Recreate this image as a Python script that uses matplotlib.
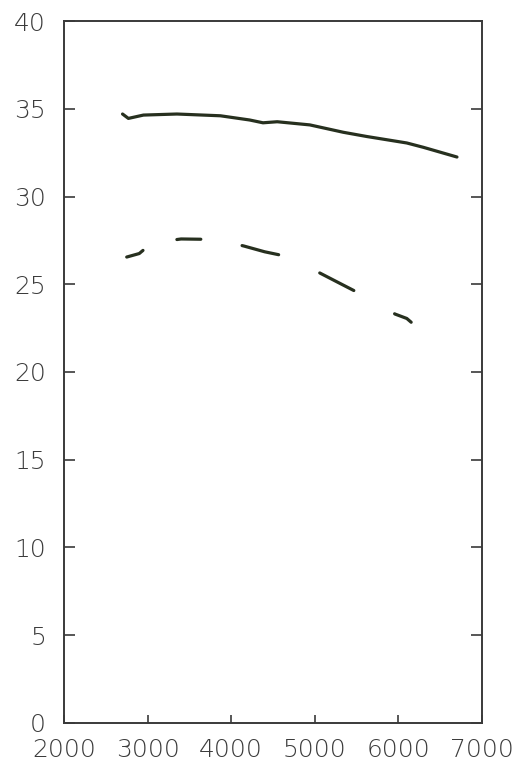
import numpy as np
import matplotlib
matplotlib.use("Agg")
import matplotlib.pyplot as plt

# solid curve (upper)
rpm_solid = [2700, 2770, 2950, 3350, 3870, 4220, 4380, 4550, 4940, 5340, 5620, 6100, 6300, 6700]
val_solid = [34.70, 34.45, 34.64, 34.70, 34.60, 34.36, 34.20, 34.26, 34.08, 33.66, 33.42, 33.05, 32.80, 32.25]

# dashed curve (lower)
rpm_dash = [2750, 2900, 2980, 3200, 3400, 3700, 4000, 4150, 4400, 4600, 4800, 5060, 5300, 5500, 5750, 5960, 6100, 6190]
val_dash = [26.55, 26.75, 27.07, 27.45, 27.58, 27.56, 27.35, 27.18, 26.85, 26.65, 26.20, 25.64, 25.05, 24.56, 23.90, 23.30, 23.05, 22.68]

x_ticks = [2000, 3000, 4000, 5000, 6000, 7000]
y_ticks = [0, 5, 10, 15, 20, 25, 30, 35, 40]

line_col = "#27301f"
frame_col = "#3a3a3a"
text_col = "#3c3c3c"

# hand-drawn look: uneven dash lengths (in linewidth units)
dash_seq = (5.6, 11.3, 7.5, 13.1, 11.8, 14.1, 12.0, 14.7, 5.9, 20)

fig = plt.figure(figsize=(5.15, 7.64), dpi=100)
ax = fig.add_axes([0.1243, 0.0537, 0.8117, 0.9188])

ax.plot(rpm_solid, val_solid, color=line_col, lw=2.3, solid_capstyle="round")
ax.plot(rpm_dash, val_dash, color=line_col, lw=2.3, linestyle=(0, dash_seq),
        dash_capstyle="round")

ax.set_xlim(2000, 7000)
ax.set_ylim(0, 40)
ax.set_xticks(x_ticks)
ax.set_yticks(y_ticks)

for s in ax.spines.values():
    s.set_color(frame_col)
    s.set_linewidth(1.4)

ax.tick_params(axis="y", direction="in", left=True, right=True, length=8,
               width=1.2, color=frame_col, pad=13, labelsize=18, labelcolor=text_col)
ax.tick_params(axis="x", direction="in", bottom=True, top=False, length=6,
               width=1.2, color=frame_col, pad=11, labelsize=18, labelcolor=text_col)
for lab in ax.get_xticklabels() + ax.get_yticklabels():
    lab.set_fontweight("light")

fig.savefig("out.png", dpi=100)
